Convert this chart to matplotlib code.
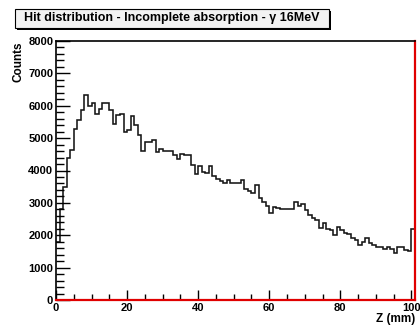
import numpy as np
import matplotlib
matplotlib.use("Agg")
import matplotlib.pyplot as plt
from matplotlib.patches import Rectangle
from matplotlib.ticker import MultipleLocator

# Hit counts per 1 mm bin along Z (0..101 mm)
bin_edges = np.arange(0, 102, 1)
counts = [
    1800, 2800, 3500, 4400, 4630, 5270, 5560, 5860, 6330, 5990,
    6090, 5760, 5910, 6090, 6090, 5860, 5430, 5710, 5760, 5200,
    5250, 5680, 5400, 5090, 4610, 4870, 4870, 4940, 4580, 4660,
    4610, 4610, 4600, 4480, 4370, 4500, 4480, 4480, 4170, 3880,
    4140, 3950, 3910, 4140, 3830, 3750, 3670, 3600, 3720, 3600,
    3620, 3620, 3700, 3420, 3370, 3310, 3550, 3140, 3030, 2900,
    2690, 2880, 2830, 2800, 2800, 2800, 2800, 3030, 2900, 2980,
    2780, 2640, 2520, 2470, 2210, 2370, 2180, 2160, 2010, 2260,
    2160, 2080, 2040, 1930, 1850, 1700, 1790, 1900, 1750, 1700,
    1650, 1640, 1560, 1650, 1560, 1460, 1650, 1650, 1540, 1500,
    2180,
]
x_ticks = [0, 20, 40, 60, 80, 100]
y_ticks = [0, 1000, 2000, 3000, 4000, 5000, 6000, 7000, 8000]
title = "Hit distribution - Incomplete absorption - \u03b3 16MeV"

plt.rcParams['font.family'] = ['Liberation Sans', 'DejaVu Sans']

fig = plt.figure(figsize=(4.2, 3.29), dpi=100)
ax = fig.add_axes([56 / 420, 1 - 300 / 329, 359 / 420, 259 / 329])

ax.stairs(counts, bin_edges, baseline=None, color="#151515", linewidth=1.15)

ax.set_xlim(0, 101)
ax.set_ylim(0, 8000)

ax.set_xticks(x_ticks)
ax.set_yticks(y_ticks)
ax.set_xticklabels([str(v) for v in x_ticks])
ax.set_yticklabels([str(v) for v in y_ticks])
ax.xaxis.set_minor_locator(MultipleLocator(5))
ax.yaxis.set_minor_locator(MultipleLocator(200))

ax.tick_params(axis="x", which="major", direction="in", length=7, width=1,
               labelsize=8, pad=2, top=False)
ax.tick_params(axis="x", which="minor", direction="in", length=4, width=1, top=False)
ax.tick_params(axis="y", which="major", direction="in", length=10, width=1,
               labelsize=8, pad=2, right=False)
ax.tick_params(axis="y", which="minor", direction="in", length=6, width=1, right=False)
for lab in ax.get_xticklabels() + ax.get_yticklabels():
    lab.set_fontweight("bold")

for side in ("left", "top"):
    ax.spines[side].set_color("black")
    ax.spines[side].set_linewidth(1.2)
for side in ("bottom", "right"):
    ax.spines[side].set_color("#e00000")
    ax.spines[side].set_linewidth(1.6)

ax.set_xlabel("Z (mm)", fontsize=8.5, fontweight="bold", loc="right", labelpad=0)
ax.set_ylabel("Counts", fontsize=8.5, fontweight="bold", loc="top", labelpad=3)

# Title box with drop shadow
bx0, by0, bw, bh = 15 / 420, 1 - 28 / 329, 314 / 420, 19 / 329
fig.patches.append(Rectangle((bx0 + 2 / 420, by0 - 2 / 329), bw, bh,
                             transform=fig.transFigure, facecolor="black",
                             edgecolor="none", zorder=1))
fig.patches.append(Rectangle((bx0, by0), bw, bh, transform=fig.transFigure,
                             facecolor="#f2f2f2", edgecolor="black",
                             linewidth=0.8, zorder=2))
fig.text(bx0 + bw / 2, by0 + bh / 2, title, ha="center", va="center",
         fontsize=9, fontweight="bold", zorder=3)

fig.savefig("out.png", dpi=100)
